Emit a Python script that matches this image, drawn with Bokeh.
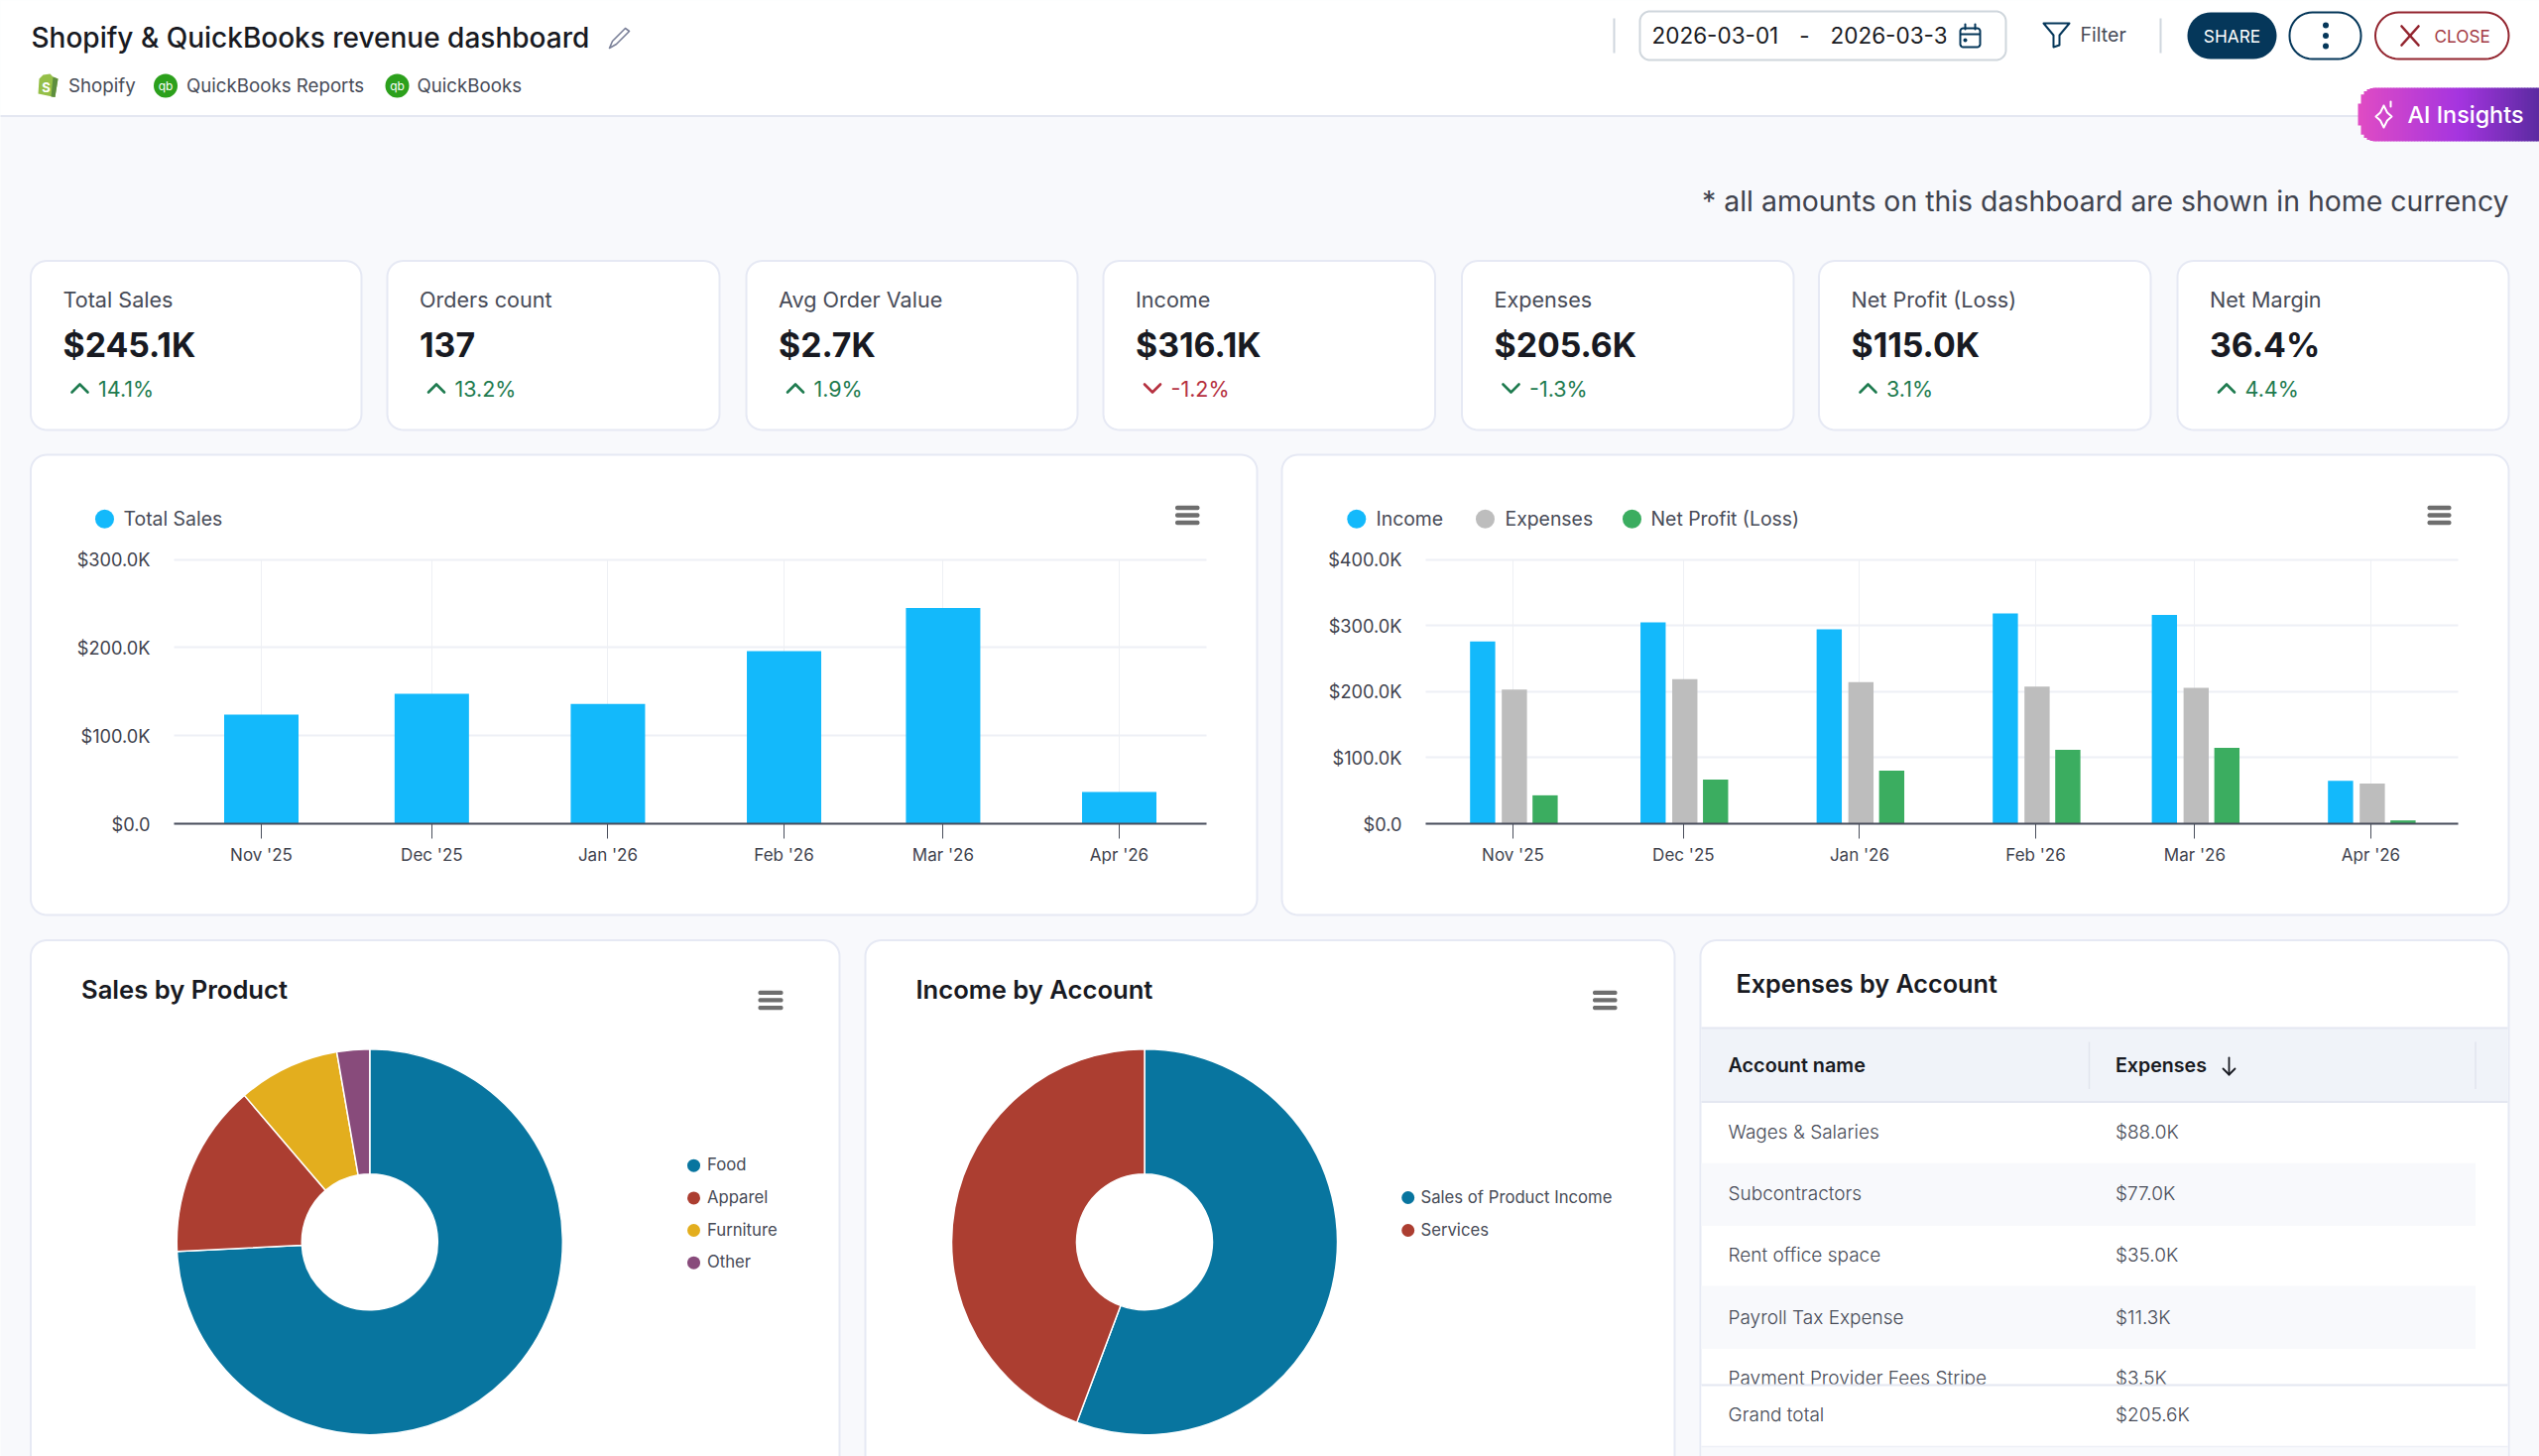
import numpy as np
import pandas as pd
from bokeh.core.properties import value
from bokeh.embed import file_html
from bokeh.resources import INLINE
from bokeh.plotting import figure
from bokeh.models import (ColumnDataSource, DatetimeAxis, LinearAxis, FixedTicker, Grid, Range1d)
from bokeh.transform import dodge

# ---------- data ----------
TITLE = "Shopify & QuickBooks revenue dashboard"
SOURCES = ["Shopify", "QuickBooks Reports", "QuickBooks"]
NOTE = "* all amounts on this dashboard are shown in home currency"

kpi_labels = ["Total Sales", "Orders count", "Avg Order Value", "Income", "Expenses", "Net Profit (Loss)", "Net Margin"]
kpi_values = ["$245.1K", "137", "$2.7K", "$316.1K", "$205.6K", "$115.0K", "36.4%"]
kpi_deltas = ["14.1%", "13.2%", "1.9%", "-1.2%", "-1.3%", "3.1%", "4.4%"]
kpi_up = [True, True, True, False, False, True, True]
kpi_good = [True, True, True, False, True, True, True]

months = ["2025-11-01", "2025-12-01", "2026-01-01", "2026-02-01", "2026-03-01", "2026-04-01"]
month_labels = ["Nov '25", "Dec '25", "Jan '26", "Feb '26", "Mar '26", "Apr '26"]
total_sales = [124000, 147500, 136000, 196000, 245100, 36000]
income = [276000, 305000, 294500, 318500, 316100, 65000]
expenses = [203000, 219000, 214500, 207500, 205600, 61000]
net_profit = [43000, 67000, 80500, 112000, 115000, 5000]

sales_ticks = [0, 100000, 200000, 300000]
sales_tick_labels = ["$0.0", "$100.0K", "$200.0K", "$300.0K"]
fin_ticks = [0, 100000, 200000, 300000, 400000]
fin_tick_labels = ["$0.0", "$100.0K", "$200.0K", "$300.0K", "$400.0K"]

product_names = ["Food", "Apparel", "Furniture", "Other"]
product_sales = [181900, 35600, 20900, 6700]
income_accounts = ["Sales of Product Income", "Services"]
income_amounts = [176100, 140000]

table_accounts = ["Wages & Salaries", "Subcontractors", "Rent office space", "Payroll Tax Expense", "Payment Provider Fees Stripe"]
table_expenses = ["$88.0K", "$77.0K", "$35.0K", "$11.3K", "$3.5K"]

# ---------- style ----------
FONT = "Inter"
FONT_MED = "'Inter Medium', Inter"
FONT_SEMI = "'Inter SemiBold', Inter"
FONT_LIGHT = "'Inter Light', Inter"
BG = "#f8f9fc"
BORDER = "#e6e9f4"
INK = "#181a22"
TXT = "#474b57"
AXTXT = "#3f434e"
C_BLUE, C_GRAY, C_GREEN = "#13b9fb", "#bdbdbd", "#3bad60"
PIE = ["#08759f", "#ac3e31", "#e3ae1e", "#884b7b"]
DARK = "#05375a"
CRIM = "#93252f"
CARD_R = 16

PW, PH = 2560, 1468
OX, OY = 0, 0
p = figure(width=PW, height=PH, output_backend="svg", toolbar_location=None,
           x_range=Range1d(OX, OX + PW), y_range=Range1d(OY + PH, OY),
           x_axis_type=None, y_axis_type=None, min_border=0,
           background_fill_color=BG, border_fill_color=BG, outline_line_color=None)
p.grid.visible = False


def rpath(x0, y0, x1, y1, r):
    tl, tr, br, bl = r if isinstance(r, (tuple, list)) else (r, r, r, r)
    xs, ys = [], []
    for cx, cy, rad, a0 in ((x0 + tl, y0 + tl, tl, 180), (x1 - tr, y0 + tr, tr, 270),
                            (x1 - br, y1 - br, br, 0), (x0 + bl, y1 - bl, bl, 90)):
        t = np.radians(np.linspace(a0, a0 + 90, 12))
        xs += list(cx + rad * np.cos(t))
        ys += list(cy + rad * np.sin(t))
    return xs, ys


def box(x0, y0, x1, y1, r=0, fill="white", line=None, lw=1.5, level="image"):
    xs, ys = rpath(x0, y0, x1, y1, r)
    p.patch(xs, ys, fill_color=fill if fill else None, fill_alpha=1 if fill else 0,
            line_color=line, line_width=lw, level=level)


def txt(x, y, s, size, color=TXT, bold=False, align="left", font=FONT):
    p.text([x], [y], text=[s], text_font=value(font), text_font_size=f"{size}px", text_color=color,
           text_baseline="middle", text_align=align, text_font_style="bold" if bold else "normal")


def burger(x0, x1, ys, h=4.4):
    for y in ys:
        box(x0, y - h / 2, x1, y + h / 2, 2, "#6e6e6e", None, level="glyph")


def polyline(xs, ys, color, w=2):
    p.line(xs, ys, line_color=color, line_width=w, line_cap="round", line_join="round")


# ---------- header ----------
box(-5, -5, 2570, 116, 0, "white", None)
p.line([-5, 2570], [116.5, 116.5], line_color="#e4e7f1", line_width=2, level="image")
txt(31, 37.5, TITLE, 28, INK, font=FONT_MED)
polyline([617, 630, 634, 621, 614, 617], [41, 28, 31, 44, 48, 41], "#7b8199", 1.6)

p.patch([39, 43, 50, 53, 58, 55, 38], [79, 75, 74, 77, 79, 97.5, 94], fill_color="#95bf47", line_color=None)
p.patch([53, 58, 55, 51], [77, 79, 97.5, 97], fill_color="#5e8e3e", line_color=None)
txt(46, 87, "S", 13, "white", True, "center")
icon_x = [166.5, 400]
p.scatter(icon_x, [86, 86], size=24, marker="circle", fill_color="#2ca01c", line_color=None)
for ix in icon_x:
    txt(ix, 86, "qb", 12, "white", False, "center")
for x, s in zip([68.5, 187.5, 420], SOURCES):
    txt(x, 85.5, s, 18.7, TXT)

p.line([1627, 1627], [18, 53], line_color="#cfd6de", line_width=2)
box(1653, 11, 2022, 60, 10, "white", "#cfd6dc", 2, "glyph")
txt(1665, 34.5, "2026-03-01", 22.5, INK)
txt(1819, 34.5, "-", 22.5, INK, False, "center")
txt(1845, 34.5, "2026-03-31", 22.5, INK)
p.quad(left=[1962], right=[1975], top=[20], bottom=[50], fill_color="white", line_color=None)
box(1976, 28, 1996, 47, 3, None, DARK, 2, "glyph")
p.line([1976, 1996], [34, 34], line_color=DARK, line_width=2)
polyline([1981, 1981], [24, 29], DARK)
polyline([1991, 1991], [24, 29], DARK)
p.scatter([1981], [40], size=4, fill_color=DARK, line_color=None)
polyline([2060, 2086, 2076, 2076, 2070, 2070, 2060], [23, 23, 35, 45, 47, 35, 23], DARK, 2)
txt(2097, 34, "Filter", 19.6, TXT)
p.line([2178, 2178], [18, 53], line_color="#cfd6de", line_width=2)
box(2205, 12, 2295, 59, 23.5, DARK, None, level="glyph")
txt(2250, 35.5, "SHARE", 17.3, "white", False, "center")
box(2308, 12, 2380, 59, 23, "white", DARK, 2, "glyph")
p.scatter([2344.5] * 3, [25, 35.5, 46], size=6, fill_color=DARK, line_color=None)
box(2394.5, 12, 2529, 59, 23.5, "white", CRIM, 2, "glyph")
polyline([2421, 2438], [26, 45], CRIM, 2.6)
polyline([2438, 2421], [26, 45], CRIM, 2.6)
txt(2454, 35.5, "CLOSE", 17.2, "#a33a44")

# AI Insights button (gradient built from thin slices)
gx = np.arange(2377, 2560, 3.0)
stops_t, stops_c = [0, 0.55, 1.0], [(224, 76, 196), (165, 53, 224), (90, 43, 160)]
for gxi in gx:
    t = (gxi - 2377) / 183
    rgb = [int(np.interp(t, stops_t, [c[i] for c in stops_c])) for i in range(3)]
    inset = 0.0
    if gxi < 2393:
        d = 2393 - gxi
        inset = 16 - np.sqrt(max(256 - d * d, 0))
    p.quad(left=[gxi], right=[gxi + 3.6], top=[88 + inset], bottom=[142 - inset],
           fill_color="#%02x%02x%02x" % tuple(rgb), line_color=None)
polyline([2403, 2406.5, 2411, 2406.5, 2403, 2399.5, 2395, 2399.5, 2403], [106, 113, 117, 121, 128, 121, 117, 113, 106], "white", 2)
polyline([2410, 2410], [102, 107], "white", 2)
txt(2427, 114.5, "AI Insights", 23.4, "white", font=FONT_MED)

txt(2529, 202, NOTE, 28.4, "#3f434e", False, "right")

# ---------- KPI cards ----------
card_x = [(30.5, 364), (390, 725), (752, 1086), (1112, 1446.5), (1473.5, 1808), (1833.5, 2168), (2195, 2529)]
for (x0, x1), lab, val, dlt, up, good in zip(card_x, kpi_labels, kpi_values, kpi_deltas, kpi_up, kpi_good):
    box(x0, 262.5, x1, 433, CARD_R, "white", BORDER, 2)
    tx = x0 + 32.5
    txt(tx, 301.5, lab, 21.6, TXT)
    txt(tx, 346.5, val, 33.8, INK, True)
    col = "#1e7b4f" if good else "#b5303f"
    ycs = [395, 387, 395] if up else [387, 395, 387]
    polyline([tx + 9, tx + 17, tx + 25], ycs, col, 2.6)
    txt(tx + 35.5, 391, dlt, 21.5, col)

# ---------- chart helpers ----------
month_ms = [pd.Timestamp(m).timestamp() * 1000 for m in months]


def mapped(v0, p0, v1, p1, lo, hi):
    k = (v1 - v0) / (p1 - p0)
    return Range1d(v0 + (lo - p0) * k, v0 + (hi - p0) * k), (lambda px: v0 + (px - p0) * k)


def add_chart(name, tick0_px, tick5_px, ax0, ax1, y0_px, ytop_px, ticks, tlabels):
    xr, xinv = mapped(month_ms[0], tick0_px, month_ms[-1], tick5_px, OX, OX + PW)
    yr, _ = mapped(ticks[0], y0_px, ticks[-1], ytop_px, OY + PH, OY)
    p.extra_x_ranges[name] = xr
    p.extra_y_ranges[name] = yr
    xa, xb = xinv(ax0), xinv(ax1)
    xt, yt = FixedTicker(ticks=month_ms), FixedTicker(ticks=ticks)
    g1 = Grid(dimension=1, ticker=yt, x_range_name=name, y_range_name=name, bounds=(ticks[0], ticks[-1]),
              cross_bounds=(xa, xb), grid_line_color="#eef0f6", grid_line_width=2, level="underlay")
    g2 = Grid(dimension=0, ticker=xt, x_range_name=name, y_range_name=name, bounds=(xa, xb),
              cross_bounds=(ticks[0], ticks[-1]), grid_line_color="#eef0f4", grid_line_width=1, level="underlay")
    p.add_layout(g1)
    p.add_layout(g2)
    ax = DatetimeAxis(x_range_name=name, y_range_name=name, ticker=xt, fixed_location=ticks[0], bounds=(xa, xb),
                      axis_line_color="#4a4f5c", axis_line_width=2, major_tick_line_color="#4a4f5c",
                      major_tick_out=15, major_tick_in=0, minor_tick_line_color=None,
                      major_label_standoff=6, major_label_text_font=FONT, major_label_text_font_size="17px",
                      major_label_text_color=AXTXT,
                      major_label_overrides={m: l for m, l in zip(month_ms, month_labels)})
    p.add_layout(ax, "below")
    ay = LinearAxis(x_range_name=name, y_range_name=name, ticker=yt, fixed_location=xa, bounds=(ticks[0], ticks[-1]),
                    axis_line_color=None, major_tick_line_color=None, minor_tick_line_color=None,
                    major_label_standoff=18, major_label_text_font=FONT, major_label_text_font_size="18.2px",
                    major_label_text_color=AXTXT,
                    major_label_overrides={t: l for t, l in zip(ticks, tlabels)})
    p.add_layout(ay, "left")
    return (tick5_px - tick0_px) / (month_ms[-1] - month_ms[0])


def legend_items(xd, xt_, names, colors, y=522.7):
    p.scatter(xd, [y] * len(xd), size=19, marker="circle", fill_color=colors, line_color=None)
    for x, n in zip(xt_, names):
        txt(x, y, n, 19.4, TXT)


# ---------- sales bar chart ----------
box(30.5, 458, 1267, 922, CARD_R, "white", BORDER, 2)
k1 = add_chart("c1", 263, 1128, 175, 1216, 830, 563.7, sales_ticks, sales_tick_labels)
src1 = ColumnDataSource(dict(date=month_ms, sales=total_sales))
p.vbar(x="date", top="sales", bottom=0, width=75 / k1, source=src1, fill_color=C_BLUE, line_color=None,
       x_range_name="c1", y_range_name="c1")
legend_items([105], [124], ["Total Sales"], [C_BLUE])
burger(1184.5, 1209, [511.5, 519, 526.5])

# ---------- finance bar chart ----------
box(1292, 458, 2529, 922, CARD_R, "white", BORDER, 2)
k2 = add_chart("c2", 1525, 2390, 1437, 2478, 830, 563.7, fin_ticks, fin_tick_labels)
src2 = ColumnDataSource(dict(date=month_ms, income=income, expenses=expenses, net=net_profit))
for col, off, color in (("income", -30.6, C_BLUE), ("expenses", 1.4, C_GRAY), ("net", 32.4, C_GREEN)):
    p.vbar(x=dodge("date", off / k2, range=p.extra_x_ranges["c2"]), top=col, bottom=0, width=25.4 / k2, source=src2,
           fill_color=color, line_color=None, x_range_name="c2", y_range_name="c2")
legend_items([1367.3, 1497, 1645], [1387, 1517, 1664], ["Income", "Expenses", "Net Profit (Loss)"],
             [C_BLUE, C_GRAY, C_GREEN])
burger(2447, 2471, [511.5, 519, 526.5])


# ---------- donuts ----------
def donut(name, cx, cy, values, labels, lx_dot, lx_txt, ly):
    xr, _ = mapped(0, cx, 1, cx + 1, OX, OX + PW)
    yr, _ = mapped(0, cy, 1, cy - 1, OY + PH, OY)
    p.extra_x_ranges[name] = xr
    p.extra_y_ranges[name] = yr
    frac = np.cumsum([0] + list(values)) / np.sum(values)
    start = np.pi / 2 - 2 * np.pi * frac[:-1]
    end = np.pi / 2 - 2 * np.pi * frac[1:]
    p.annular_wedge(x=[0] * len(values), y=[0] * len(values), inner_radius=68.5, outer_radius=194.5,
                    start_angle=start, end_angle=end, direction="clock",
                    fill_color=PIE[:len(values)], line_color="white", line_width=1.5,
                    x_range_name=name, y_range_name=name)
    p.scatter([lx_dot] * len(values), ly, size=13, marker="circle", fill_color=PIE[:len(values)], line_color=None)
    for y, l in zip(ly, labels):
        txt(lx_txt, y - 1, l, 16.7, TXT)


box(30.5, 947.5, 846, 1520, CARD_R, "white", BORDER, 2)
txt(81.5, 997, "Sales by Product", 25.6, INK, True, font=FONT_SEMI)
burger(764, 789, [1000.4, 1007.9, 1015.6])
donut("d1", 372.3, 1251.7, product_sales, product_names, 699, 712.5, [1174.7, 1207.4, 1240, 1272.7])

box(872, 947.5, 1688, 1520, CARD_R, "white", BORDER, 2)
txt(923, 997, "Income by Account", 25.6, INK, True, font=FONT_SEMI)
burger(1605.5, 1630, [1000.4, 1007.9, 1015.6])
donut("d2", 1153.5, 1251.7, income_amounts, income_accounts, 1419.2, 1432, [1207, 1240])

# ---------- table ----------
box(1714, 947.5, 2529, 1520, CARD_R, "white", BORDER, 2)
txt(1750, 991, "Expenses by Account", 25.2, INK, True, font=FONT_SEMI)
p.quad(left=[1715], right=[2528], top=[1036], bottom=[1110.5], fill_color="#f0f3f9", line_color=None, level="image")
p.line([1715, 2528], [1036, 1036], line_color="#e4e7f1", line_width=2, level="image")
p.line([1715, 2528], [1110.5, 1110.5], line_color="#e4e7f1", line_width=2, level="image")
p.line([2106, 2106], [1050, 1097.5], line_color="#e2e5ee", line_width=1.5)
p.line([2495.5, 2495.5], [1050, 1097.5], line_color="#e2e5ee", line_width=1.5)
txt(1742, 1073.5, "Account name", 19.8, INK, True, font=FONT_SEMI)
txt(2132.5, 1073.5, "Expenses", 19.6, INK, True, font=FONT_SEMI)
polyline([2247, 2247], [1066, 1083], INK, 1.8)
polyline([2241, 2247, 2253], [1077, 1083, 1077], INK, 1.8)
row_y = [1140.5, 1202.8, 1265.1, 1327.5, 1389]
p.quad(left=[1715, 1715], right=[2495.5, 2495.5], top=[1172.3, 1296], bottom=[1235.4, 1359.4],
       fill_color=BG, line_color=None, level="image")
for y, a, e in zip(row_y, table_accounts, table_expenses):
    txt(1742, y, a, 19, TXT, font=FONT_LIGHT)
    txt(2132.5, y, e, 19, TXT, font=FONT_LIGHT)
p.quad(left=[1715], right=[2528], top=[1396], bottom=[1458], fill_color="white", line_color=None)
p.quad(left=[1715], right=[2528], top=[1458], bottom=[1520], fill_color=BG, line_color=None)
p.line([1715, 2528], [1396, 1396], line_color="#e4e7f1", line_width=2)
p.line([1715, 2528], [1458, 1458], line_color="#eef0f6", line_width=1.5)
txt(1742, 1426, "Grand total", 19, TXT, font=FONT_LIGHT)
txt(2132.5, 1426, "$205.6K", 19, TXT, font=FONT_LIGHT)

open("out.html", "w").write(file_html(p, INLINE))
